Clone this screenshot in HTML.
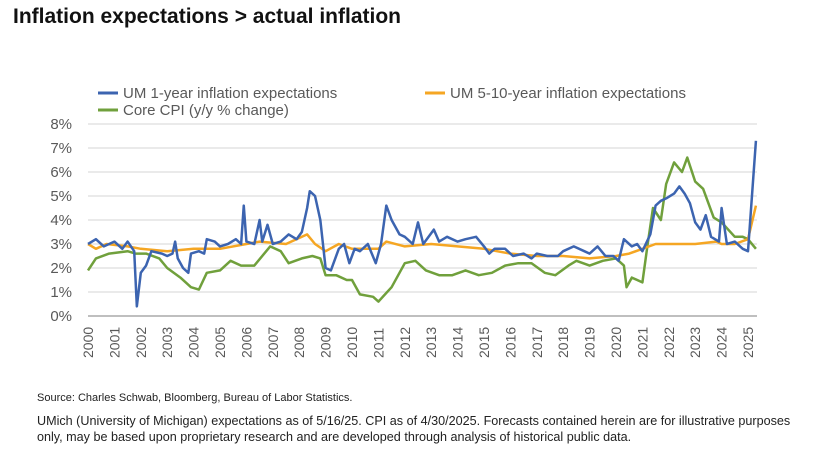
<!DOCTYPE html>
<html><head><meta charset="utf-8"><style>
body{margin:0;width:817px;height:458px;background:#fff;font-family:"Liberation Sans",sans-serif;overflow:hidden;position:relative}
.t{position:absolute;left:13px;top:5px;font-size:21px;font-weight:bold;color:#111}
.n{position:absolute;left:37px;font-size:11px;color:#222;line-height:16px}
</style></head><body>
<div class="t">Inflation expectations &gt; actual inflation</div>
<svg id="c" width="817" height="458" style="position:absolute;left:0;top:0"></svg>
<div class="n" style="top:390px">Source: Charles Schwab, Bloomberg, Bureau of Labor Statistics.</div>
<div class="n" style="top:413px;width:775px;font-size:12.6px">UMich (University of Michigan) expectations as of 5/16/25. CPI as of 4/30/2025. Forecasts contained herein are for illustrative purposes only, may be based upon proprietary research and are developed through analysis of historical public data.</div>
<script>
const years=[2000,2001,2002,2003,2004,2005,2006,2007,2008,2009,2010,2011,2012,2013,2014,2015,2016,2017,2018,2019,2020,2021,2022,2023,2024,2025];
const yTicks=[0,1,2,3,4,5,6,7,8];
const blueT=[2000,2000.3,2000.6,2001,2001.3,2001.5,2001.75,2001.85,2002,2002.2,2002.4,2002.8,2003,2003.2,2003.3,2003.4,2003.6,2003.8,2003.9,2004.2,2004.4,2004.5,2004.8,2005,2005.3,2005.6,2005.8,2005.9,2006,2006.3,2006.5,2006.6,2006.8,2007,2007.3,2007.6,2007.9,2008.1,2008.3,2008.4,2008.6,2008.8,2009,2009.2,2009.5,2009.7,2009.9,2010.1,2010.3,2010.6,2010.9,2011.1,2011.3,2011.5,2011.8,2012,2012.3,2012.5,2012.7,2013.1,2013.3,2013.6,2014,2014.3,2014.7,2015,2015.2,2015.4,2015.8,2016.1,2016.5,2016.8,2017,2017.4,2017.8,2018,2018.4,2018.8,2019,2019.3,2019.6,2019.9,2020.1,2020.3,2020.6,2020.8,2021,2021.3,2021.5,2021.7,2021.9,2022.2,2022.4,2022.6,2022.8,2023,2023.2,2023.4,2023.6,2023.9,2024,2024.2,2024.5,2024.8,2025,2025.15,2025.3];
const blueV=[3.0,3.2,2.9,3.1,2.8,3.1,2.7,0.4,1.8,2.1,2.7,2.6,2.5,2.6,3.1,2.4,2.0,1.8,2.6,2.7,2.6,3.2,3.1,2.9,3.0,3.2,3.0,4.6,3.1,3.0,4.0,3.1,3.8,3.0,3.1,3.4,3.2,3.5,4.5,5.2,5.0,4.0,2.0,1.9,2.8,3.0,2.2,2.8,2.7,3.0,2.2,3.0,4.6,4.0,3.4,3.3,3.0,3.9,3.0,3.6,3.1,3.3,3.1,3.2,3.3,2.9,2.6,2.8,2.8,2.5,2.6,2.4,2.6,2.5,2.5,2.7,2.9,2.7,2.6,2.9,2.5,2.5,2.3,3.2,2.9,3.0,2.7,3.4,4.6,4.8,4.9,5.1,5.4,5.1,4.7,3.9,3.6,4.2,3.3,3.1,4.5,3.0,3.1,2.8,2.7,5.0,7.3];
const orangeT=[2000,2000.3,2000.7,2001.5,2002,2003,2004,2005,2006,2006.5,2007.5,2008.3,2008.6,2009,2009.5,2010,2011,2011.3,2012,2013,2014,2015,2016,2017,2018,2019,2020,2020.5,2021,2021.5,2022,2023,2023.8,2024,2024.5,2025,2025.3];
const orangeV=[3.0,2.8,3.0,2.9,2.8,2.7,2.8,2.8,3.0,3.1,3.0,3.4,3.0,2.7,3.0,2.8,2.8,3.1,2.9,3.0,2.9,2.8,2.6,2.5,2.5,2.4,2.5,2.6,2.8,3.0,3.0,3.0,3.1,3.0,3.0,3.2,4.6];
const greenT=[2000,2000.3,2000.8,2001.5,2001.8,2002.2,2002.7,2003,2003.5,2003.9,2004.2,2004.5,2005,2005.4,2005.8,2006.3,2006.9,2007.3,2007.6,2008.1,2008.5,2008.8,2009,2009.4,2009.8,2010,2010.3,2010.8,2011,2011.5,2012,2012.4,2012.8,2013.3,2013.8,2014.3,2014.8,2015.3,2015.8,2016.3,2016.8,2017.3,2017.7,2018.2,2018.5,2019,2019.5,2020,2020.3,2020.4,2020.6,2021,2021.2,2021.4,2021.7,2021.9,2022.2,2022.5,2022.7,2023,2023.3,2023.7,2024,2024.5,2024.8,2025,2025.3];
const greenV=[1.9,2.4,2.6,2.7,2.6,2.6,2.4,2.0,1.6,1.2,1.1,1.8,1.9,2.3,2.1,2.1,2.9,2.7,2.2,2.4,2.5,2.4,1.7,1.7,1.5,1.5,0.9,0.8,0.6,1.2,2.2,2.3,1.9,1.7,1.7,1.9,1.7,1.8,2.1,2.2,2.2,1.8,1.7,2.1,2.3,2.1,2.3,2.4,2.1,1.2,1.6,1.4,3.0,4.5,4.0,5.5,6.4,6.0,6.6,5.6,5.3,4.1,3.9,3.3,3.3,3.2,2.8];
const NS='http://www.w3.org/2000/svg',svg=document.getElementById('c');
const X=t=>88+(t-2000)*26.4, Y=v=>316-v*24;
function mk(tag,at,txt){const e=document.createElementNS(NS,tag);for(const k in at)e.setAttribute(k,at[k]);if(txt!=null)e.textContent=txt;svg.appendChild(e);return e;}
yTicks.forEach(v=>{
 const g=mk('line',{x1:88,x2:757,y1:Y(v),y2:Y(v),stroke:v?'#e3e3e3':'#bfbfbf','stroke-width':v?1.5:2});
 
 
 const l=mk('text',{x:72,y:Y(v)+5,'text-anchor':'end','font-size':15,fill:'#595959','font-family':'Liberation Sans'},v+'%');
 
 
});
years.forEach(y=>{
 const l=mk('text',{transform:`translate(${X(y)+5},358) rotate(-90)`,'font-size':14,fill:'#595959','font-family':'Liberation Sans'},String(y));
 
 
});
function series(T,V,col,name){
 const p=mk('polyline',{points:T.map((t,i)=>X(t)+','+Y(V[i])).join(' '),fill:'none',stroke:col,'stroke-width':2.5,'stroke-linejoin':'round'});
 
 
}
series(greenT,greenV,'#70a03c','core-cpi-line');
series(orangeT,orangeV,'#f5a623','um-5-10-year-line');
series(blueT,blueV,'#3c64b0','um-1-year-line');
function leg(x,y,col,txt,name){
 const l=mk('line',{x1:x,x2:x+20,y1:y,y2:y,stroke:col,'stroke-width':3});
 
 
 const t=mk('text',{x:x+25,y:y+5,'font-size':15,fill:'#595959','font-family':'Liberation Sans'},txt);
 
 
}
leg(98,93,'#3c64b0','UM 1-year inflation expectations','legend-um-1-year');
leg(425,93,'#f5a623','UM 5-10-year inflation expectations','legend-um-5-10-year');
leg(98,110,'#70a03c','Core CPI (y/y % change)','legend-core-cpi');
</script>
</body></html>
